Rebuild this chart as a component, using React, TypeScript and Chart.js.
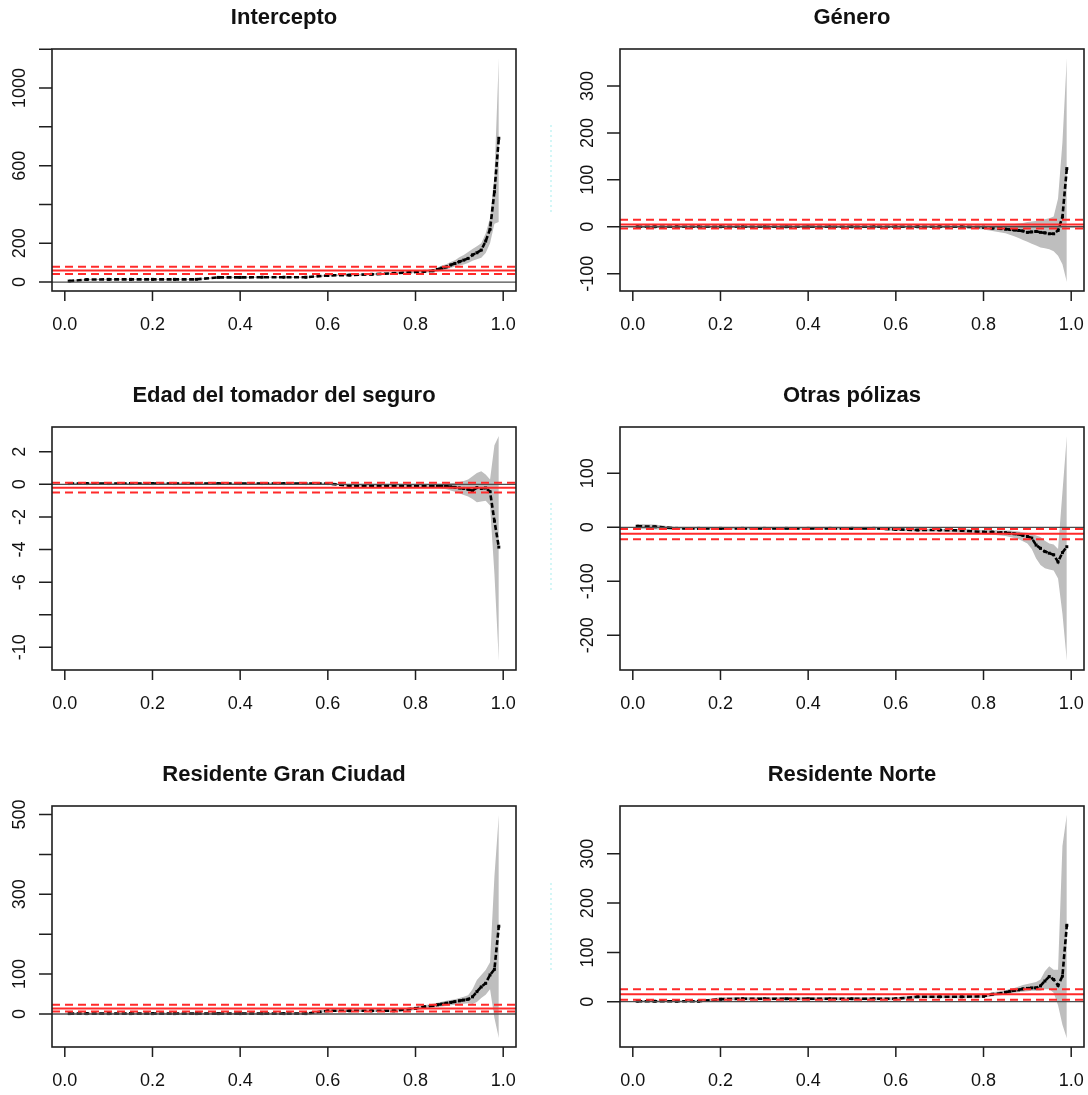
import { useEffect, useRef } from "react";
import { Chart, registerables } from "chart.js";

Chart.register(...registerables);

// ---------- data ----------
const TAUS = [0.01, 0.05, 0.1, 0.15, 0.2, 0.25, 0.3, 0.35, 0.4, 0.45, 0.5, 0.55, 0.6, 0.65, 0.7, 0.75, 0.8, 0.82, 0.84, 0.85, 0.86, 0.87, 0.88, 0.89, 0.9, 0.91, 0.92, 0.93, 0.94, 0.95, 0.96, 0.97, 0.98, 0.99];

const TITLES = ["Intercepto", "Género", "Edad del tomador del seguro", "Otras pólizas", "Residente Gran Ciudad", "Residente Norte"];

const INTERCEPTO_COEF = [5, 13, 14, 14, 14, 14, 14, 24, 24, 25, 25, 25, 34, 36, 40, 45, 53, 55, 58, 65, 72, 78, 88, 96, 105, 113, 122, 140, 151, 165, 211, 272, 466, 741];
const INTERCEPTO_LO = [0, 10, 12, 12, 12, 12, 12, 20, 21, 22, 22, 22, 30, 32, 35, 40, 47, 49, 51, 55, 60, 65, 73, 80, 85, 90, 98, 110, 118, 125, 150, 200, 300, 310];
const INTERCEPTO_HI = [10, 16, 16, 16, 16, 16, 16, 28, 27, 28, 28, 28, 38, 40, 45, 50, 60, 62, 66, 75, 85, 92, 103, 112, 128, 140, 155, 170, 185, 200, 250, 330, 545, 1155];

const GENERO_COEF = [0, 0, 0, 0, 0, 0, 0, 0, 0, 0, 0, 0, 0, 0, 0, 0, -1, -3, -4, -5, -6, -7, -8, -9, -12, -11, -10, -12, -13, -15, -15, -8, 21, 124];
const GENERO_LO = [-2, -2, -2, -2, -2, -2, -2, -2, -2, -2, -2, -2, -2, -2, -2, -2, -6, -9, -12, -14, -17, -20, -24, -28, -32, -36, -40, -44, -46, -48, -52, -62, -80, -118];
const GENERO_HI = [2, 2, 2, 2, 2, 2, 2, 2, 2, 2, 2, 2, 2, 2, 2, 2, 3, 3, 4, 5, 5, 6, 7, 8, 10, 11, 12, 14, 16, 18, 22, 60, 180, 360];

const EDAD_COEF = [0.05, 0.05, 0.05, 0.05, 0.05, 0.05, 0.05, 0.05, 0.05, 0.05, 0.05, 0.05, 0.05, -0.08, -0.08, -0.08, -0.08, -0.08, -0.08, -0.08, -0.1, -0.12, -0.15, -0.18, -0.22, -0.25, -0.3, -0.38, -0.2, -0.25, -0.22, -0.45, -2.25, -3.85];
const EDAD_LO = [0, 0, 0, 0, 0, 0, 0, 0, 0, 0, 0, 0, 0, -0.12, -0.12, -0.12, -0.14, -0.15, -0.18, -0.2, -0.25, -0.3, -0.38, -0.45, -0.55, -0.65, -0.75, -0.9, -1.1, -1.05, -1.0, -1.3, -5.5, -10.84];
const EDAD_HI = [0.1, 0.1, 0.1, 0.1, 0.1, 0.1, 0.1, 0.1, 0.1, 0.1, 0.1, 0.1, 0.1, -0.04, -0.04, -0.04, -0.03, -0.02, 0, 0.02, 0.03, 0.05, 0.07, 0.1, 0.15, 0.2, 0.3, 0.5, 0.7, 0.8, 0.6, 0.3, 2.4, 2.97];

const OTRAS_COEF = [2, 1, -2, -2, -2, -2, -2, -2, -2, -2, -2, -2, -4, -5, -5, -6, -9, -9, -10, -10, -11, -12, -13, -15, -17, -20, -33, -39, -45, -48, -51, -64, -47, -36];
const OTRAS_LO = [-3, -4, -4, -4, -4, -4, -4, -4, -4, -4, -4, -4, -7, -8, -8, -10, -13, -14, -15, -16, -18, -20, -22, -26, -30, -40, -58, -70, -76, -78, -80, -95, -160, -247];
const OTRAS_HI = [6, 5, 0, 0, 0, 0, 0, 0, 0, 0, 0, 0, -2, -3, -3, -3, -5, -5, -6, -6, -6, -7, -8, -9, -10, -12, -15, -18, -25, -30, -32, -40, 65, 169];

const CIUDAD_COEF = [1, 1, 1, 1, 1, 1, 1, 1, 1, 1, 1, 1, 8, 8, 8, 8, 14, 18, 21, 23, 25, 27, 29, 31, 33, 35, 37, 43, 56, 68, 77, 98, 112, 220];
const CIUDAD_LO = [-1, -1, -1, -1, -1, -1, -1, -1, -1, -1, -1, -1, 5, 5, 5, 5, 10, 13, 16, 18, 19, 20, 22, 23, 25, 26, 27, 25, 30, 40, 48, 62, -10, -60];
const CIUDAD_HI = [3, 3, 3, 3, 3, 3, 3, 3, 3, 3, 3, 3, 11, 11, 11, 11, 18, 22, 26, 28, 31, 33, 35, 37, 40, 43, 47, 62, 85, 98, 110, 130, 345, 499];

const NORTE_COEF = [1, 1, 1, 1, 5, 6, 6, 6, 6, 6, 6, 6, 6, 10, 10, 10, 11, 15, 17, 19, 21, 23, 24, 26, 27, 28, 28, 32, 42, 51, 45, 33, 52, 155];
const NORTE_LO = [-1, -1, -1, -1, 3, 3, 3, 3, 3, 3, 3, 3, 3, 7, 7, 7, 8, 11, 13, 15, 16, 18, 19, 20, 21, 22, 22, 22, 25, 25, 18, -7, -47, -74];
const NORTE_HI = [3, 3, 3, 3, 9, 9, 9, 9, 9, 9, 9, 9, 9, 13, 13, 13, 14, 19, 21, 23, 26, 28, 31, 34, 36, 38, 40, 45, 62, 72, 65, 65, 316, 379];

// OLS estimate and its confidence bounds for each panel
const OLS_COEF = [60, 5, -0.2, -12, 14, 15];
const OLS_LO = [41, -4, -0.5, -22, 6, 4];
const OLS_HI = [79, 15, 0.1, -3, 23, 25];

// axes
const X_MIN = -0.0292;
const X_MAX = 1.0292;
const X_TICKS = [0, 0.2, 0.4, 0.6, 0.8, 1.0];
const X_TICK_LABELS = ["0.0", "0.2", "0.4", "0.6", "0.8", "1.0"];

const Y_MIN = [-46, -137, -11.39, -264.3, -82.7, -91.9];
const Y_MAX = [1201, 379, 3.52, 185.7, 521.3, 397];
const Y_TICKS = [
  [0, 200, 400, 600, 800, 1000, 1200],
  [-100, 0, 100, 200, 300],
  [-10, -8, -6, -4, -2, 0, 2],
  [-200, -100, 0, 100],
  [0, 100, 200, 300, 400, 500],
  [0, 100, 200, 300],
];
const Y_LABELED = [
  [0, 200, 600, 1000],
  [-100, 0, 100, 200, 300],
  [-10, -6, -4, -2, 0, 2],
  [-200, -100, 0, 100],
  [0, 100, 300, 500],
  [0, 100, 200, 300],
];

const COEFS = [INTERCEPTO_COEF, GENERO_COEF, EDAD_COEF, OTRAS_COEF, CIUDAD_COEF, NORTE_COEF];
const LOWS = [INTERCEPTO_LO, GENERO_LO, EDAD_LO, OTRAS_LO, CIUDAD_LO, NORTE_LO];
const HIGHS = [INTERCEPTO_HI, GENERO_HI, EDAD_HI, OTRAS_HI, CIUDAD_HI, NORTE_HI];

// ---------- layout (page pixels) ----------
const COL_X = [0, 544];
const ROW_Y = [0, 370, 740];
const ROW_H = [370, 370, 355];
const BOX_L = [52, 620];
const BOX_R = [516, 1084];
const BOX_T = [49, 427, 806];
const BOX_B = [291, 670, 1047];
const CYAN_MARK = [
  [125, 212],
  [133, 220],
  [143, 230],
];

const FONT = "'Liberation Sans', Arial, Helvetica, sans-serif";

function Panel({ i }: { i: number }) {
  const ref = useRef<HTMLCanvasElement>(null);
  const col = i % 2;
  const row = Math.floor(i / 2);
  const cx = COL_X[col];
  const cy = ROW_Y[row];
  const w = 544;
  const h = ROW_H[row];

  useEffect(() => {
    const canvas = ref.current;
    if (!canvas) return;
    const pts = (ys: number[]) => TAUS.map((t, k) => ({ x: t, y: ys[k] }));
    const hline = (v: number) => [
      { x: X_MIN, y: v },
      { x: X_MAX, y: v },
    ];

    const axesPlugin = {
      id: "rAxes" + i,
      afterDraw(chart: any) {
        const ctx: CanvasRenderingContext2D = chart.ctx;
        const a = chart.chartArea;
        const xs = chart.scales.x;
        const ys = chart.scales.y;
        ctx.save();
        ctx.strokeStyle = "#1e1e1e";
        ctx.lineWidth = 1.6;
        ctx.strokeRect(a.left, a.top, a.right - a.left, a.bottom - a.top);
        ctx.lineWidth = 1.5;
        ctx.beginPath();
        for (const v of Y_TICKS[i]) {
          const py = ys.getPixelForValue(v);
          ctx.moveTo(a.left - 13, py);
          ctx.lineTo(a.left, py);
        }
        for (const v of X_TICKS) {
          const px = xs.getPixelForValue(v);
          ctx.moveTo(px, a.bottom);
          ctx.lineTo(px, a.bottom + 10);
        }
        ctx.stroke();

        ctx.fillStyle = "#111";
        ctx.font = "18px " + FONT;
        ctx.textAlign = "center";
        ctx.textBaseline = "middle";
        X_TICKS.forEach((v, k) => {
          ctx.fillText(X_TICK_LABELS[k], xs.getPixelForValue(v), a.bottom + 34);
        });
        for (const v of Y_LABELED[i]) {
          const py = ys.getPixelForValue(v);
          ctx.save();
          ctx.translate(a.left - 32, py);
          ctx.rotate(-Math.PI / 2);
          ctx.fillText(String(v), 0, 0);
          ctx.restore();
        }
        ctx.font = "bold 22px " + FONT;
        ctx.fillText(TITLES[i], (a.left + a.right) / 2, a.top - 31);

        if (col === 1) {
          ctx.strokeStyle = "#d2f6f6";
          ctx.lineWidth = 2;
          ctx.setLineDash([2, 3]);
          ctx.beginPath();
          ctx.moveTo(7, CYAN_MARK[row][0]);
          ctx.lineTo(7, CYAN_MARK[row][1]);
          ctx.stroke();
        }
        ctx.restore();
      },
    };

    const chart = new Chart(canvas, {
      type: "line",
      data: {
        datasets: [
          { data: hline(OLS_COEF[i]), borderColor: "#ff2a2a", borderWidth: 2, pointRadius: 0, fill: false },
          { data: hline(OLS_LO[i]), borderColor: "#ff2a2a", borderWidth: 2, borderDash: [8, 5], pointRadius: 0, fill: false },
          { data: hline(OLS_HI[i]), borderColor: "#ff2a2a", borderWidth: 2, borderDash: [8, 5], pointRadius: 0, fill: false },
          { data: hline(0), borderColor: "#4d4d4d", borderWidth: 1.3, pointRadius: 0, fill: false },
          {
            data: pts(COEFS[i]),
            borderColor: "#000",
            borderWidth: 2.6,
            borderDash: [5, 2.5],
            pointStyle: "rect",
            pointRadius: 2.1,
            pointBackgroundColor: "#000",
            pointBorderWidth: 0,
            fill: false,
          },
          { data: pts(LOWS[i]), borderColor: "rgba(0,0,0,0)", borderWidth: 0, pointRadius: 0, fill: false },
          { data: pts(HIGHS[i]), borderColor: "rgba(0,0,0,0)", borderWidth: 0, pointRadius: 0, fill: "-1", backgroundColor: "#bebebe" },
        ] as any,
      },
      options: {
        responsive: false,
        animation: false,
        events: [],
        layout: {
          padding: {
            left: BOX_L[col] - cx,
            right: cx + w - BOX_R[col],
            top: BOX_T[row] - cy,
            bottom: cy + h - BOX_B[row],
          },
        },
        scales: {
          x: { type: "linear", min: X_MIN, max: X_MAX, display: false },
          y: { type: "linear", min: Y_MIN[i], max: Y_MAX[i], display: false },
        },
        plugins: {
          legend: { display: false },
          tooltip: { enabled: false },
        },
      } as any,
      plugins: [axesPlugin],
    });
    return () => chart.destroy();
  }, []);

  return (
    <canvas
      ref={ref}
      width={w}
      height={h}
      style={{ position: "absolute", left: cx, top: cy, width: w, height: h }}
    />
  );
}

export default function App() {
  return (
    <div
      style={{
        position: "absolute",
        left: 0,
        top: 0,
        width: 1088,
        height: 1095,
        background: "#fff",
        overflow: "hidden",
      }}
    >
      {[0, 1, 2, 3, 4, 5].map((i) => (
        <Panel key={i} i={i} />
      ))}
    </div>
  );
}
